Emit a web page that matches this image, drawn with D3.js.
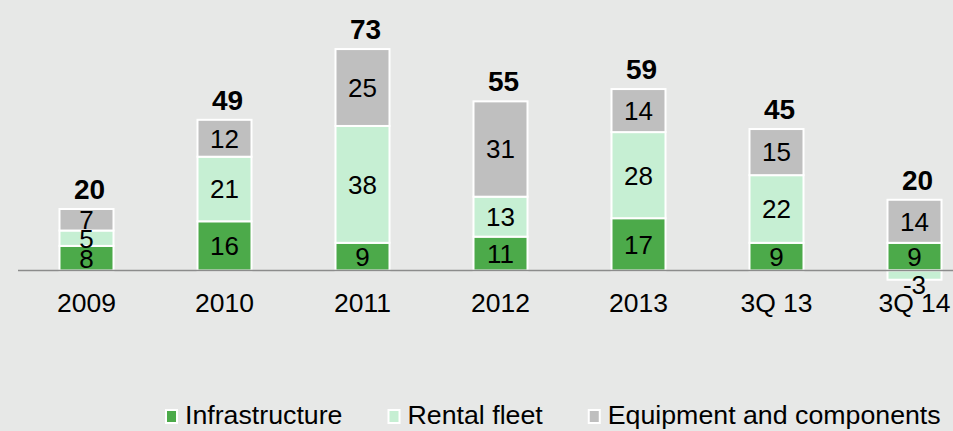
<!DOCTYPE html>
<html>
<head>
<meta charset="utf-8">
<script src="https://cdn.jsdelivr.net/npm/d3@7"></script>
<style>
  html, body { margin: 0; padding: 0; background: #e7e8e7; }
  svg { display: block; }
  text { font-family: "Liberation Sans", Arial, sans-serif; fill: #000; }
</style>
</head>
<body>
<svg id="chart" width="953" height="431"></svg>
<script>
const categories = ["2009", "2010", "2011", "2012", "2013", "3Q 13", "3Q 14"];
const infrastructure = [8, 16, 9, 11, 17, 9, 9];
const rentalFleet = [5, 21, 38, 13, 28, 22, -3];
const equipment = [7, 12, 25, 31, 14, 15, 14];
const totals = [20, 49, 73, 55, 59, 45, 20];
const seriesNames = ["Infrastructure", "Rental fleet", "Equipment and components"];
const seriesColors = ["#4caa4a", "#c6efd3", "#bfbfbf"];

const W = 953, H = 431;
const svg = d3.select("#chart");

const x = d3.scaleBand().domain(categories).range([17.5, 983.5]).padding(0);
const y = d3.scaleLinear().domain([0, 73]).range([270.5, 46]);
const barW = 54;

const seriesData = [infrastructure, rentalFleet, equipment];

const segments = [];
categories.forEach((c, i) => {
  let pos = 0, neg = 0;
  seriesData.forEach((arr, s) => {
    const v = arr[i];
    let y0, y1;
    if (v >= 0) { y0 = pos; y1 = pos + v; pos = y1; }
    else { y0 = neg + v; y1 = neg; neg = y0; }
    segments.push({ cat: c, s, v, y0, y1 });
  });
});

const g = svg.append("g");

g.selectAll("rect.seg").data(segments).join("rect")
  .attr("class", "seg")
  .attr("x", d => x(d.cat) + x.bandwidth() / 2 - barW / 2)
  .attr("width", barW)
  .attr("y", d => y(d.y1))
  .attr("height", d => y(d.y0) - y(d.y1))
  .attr("fill", d => seriesColors[d.s])
  .attr("stroke", "#fff")
  .attr("stroke-width", 2);

svg.append("line")
  .attr("x1", 18).attr("x2", W)
  .attr("y1", y(0)).attr("y2", y(0))
  .attr("stroke", "#8c8c8c").attr("stroke-width", 1.5);

g.selectAll("text.val").data(segments).join("text")
  .attr("class", "val")
  .attr("x", d => x(d.cat) + x.bandwidth() / 2)
  .attr("y", d => (y(d.y0) + y(d.y1)) / 2)
  .attr("dy", d => d.v < 0 ? "0.72em" : "0.36em")
  .attr("text-anchor", "middle")
  .style("font-size", "26px")
  .text(d => d.v);

const tops = categories.map((c, i) => {
  let pos = 0;
  seriesData.forEach(arr => { if (arr[i] > 0) pos += arr[i]; });
  return pos;
});
g.selectAll("text.tot").data(categories).join("text")
  .attr("class", "tot")
  .attr("x", d => x(d) + x.bandwidth() / 2 + 3)
  .attr("y", (d, i) => y(tops[i]) - 10)
  .attr("text-anchor", "middle")
  .style("font-size", "28px")
  .style("font-weight", "bold")
  .text((d, i) => totals[i]);

const xAxis = svg.append("g").attr("transform", `translate(0,${y(0)})`)
  .call(d3.axisBottom(x).tickSize(0).tickPadding(0));
xAxis.select(".domain").remove();
xAxis.selectAll("text")
  .attr("y", 41).attr("dy", 0)
  .style("font-size", "26.5px")
  .style("font-family", "\"Liberation Sans\", Arial, sans-serif")
  .attr("fill", "#000");

const legend = svg.append("g").attr("class", "legend");
const sx = 1.07;
let lx = 165;
seriesNames.forEach((name, s) => {
  legend.append("rect")
    .attr("x", lx + 1).attr("y", 410)
    .attr("width", 11).attr("height", 13)
    .attr("fill", seriesColors[s])
    .attr("stroke", "#fff").attr("stroke-width", 2);
  const t = legend.append("text")
    .attr("x", lx + 20).attr("y", 424.5)
    .style("font-size", "25px")
    .attr("transform", `translate(${(lx + 20)},0) scale(${sx},1) translate(${-(lx + 20)},0)`)
    .text(name);
  const len = t.node().getComputedTextLength() * sx;
  lx = lx + 20 + len + 45;
});
</script>
</body>
</html>
